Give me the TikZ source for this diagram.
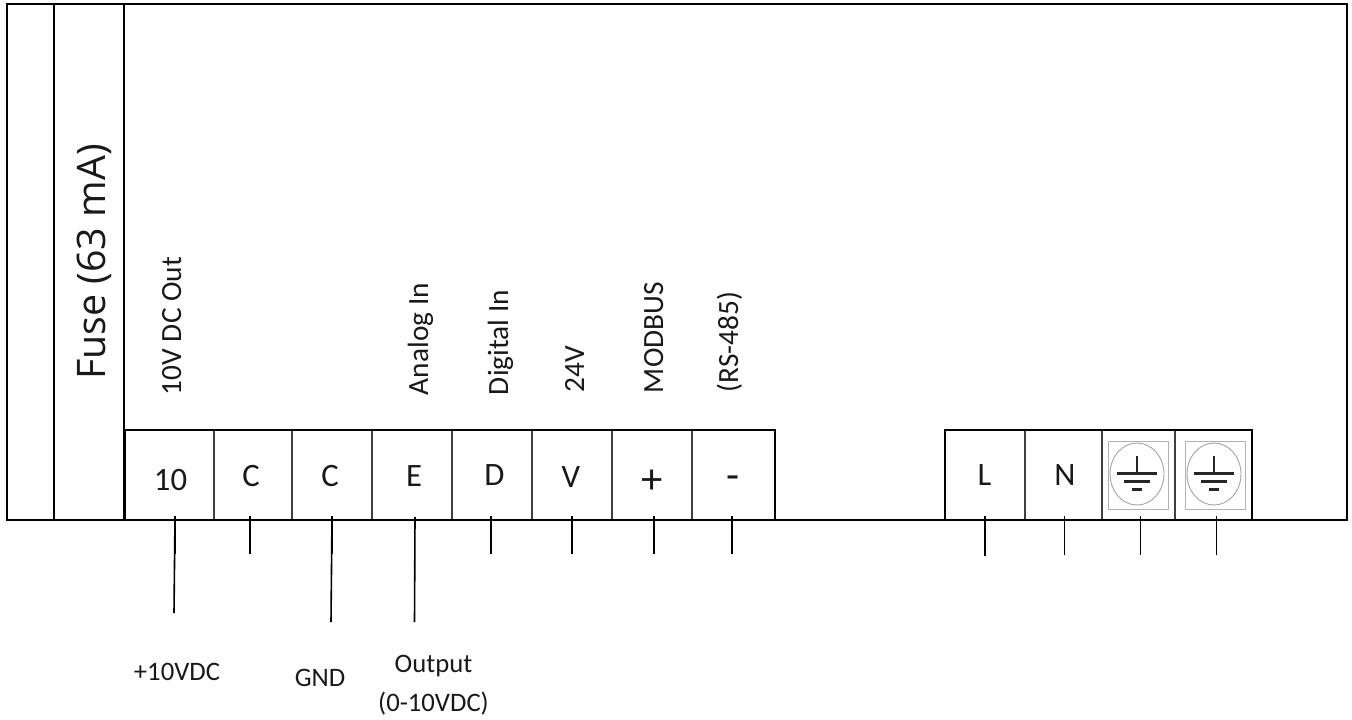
\documentclass[tikz,border=0pt]{standalone}
\usepackage{fontspec}
\setmainfont{Carlito}
\newfontfamily\fusefont{Open Sans}
\usepackage{xcolor}
\usepackage{tikz}
\usetikzlibrary{shapes.geometric}

\begin{document}
\begin{tikzpicture}[x=0.75pt, y=-0.75pt,
    every node/.style={inner sep=0pt, outer sep=0pt, text=black!90},
    cell/.style={draw=black!75, line width=0.9pt, minimum height=67.5pt},
    pin/.style={font=\fontsize{24.5}{28}\selectfont},
    bigpin/.style={font=\fontsize{32}{36}\selectfont},
    strip/.style={draw=black, line width=1.7pt},
    lead/.style={draw=black, line width=1.2pt},
    vert/.style={rotate=90, anchor=base west, font=\fontsize{22}{26}\selectfont},
    wire/.style={font=\fontsize{20}{24}\selectfont, align=center},
    earth/.style={draw=black!85, line width=1.6pt},
]
    \useasboundingbox (0,0) rectangle (1352,719);
    % housing
    \node (housing) [draw=black, line width=1.6pt, minimum width=1005pt, minimum height=387pt] at (677,262) {};
    \draw [line width=1.4pt] (54,4) -- (54,520);
    \draw [line width=1.5pt] (124,4) -- (124,520);
    \node (fuse) [rotate=90, anchor=base, font=\fusefont\fontsize{29.5}{34}\selectfont] at (105,262) {Fuse (63 mA)};
    % low voltage terminals
    \node (c10) [cell, minimum width=66.75pt] at (169.5,475) {};
    \node (c1) [cell, minimum width=58.5pt] at (253,475) {};
    \node (c2) [cell, minimum width=60pt] at (332,475) {};
    \node (ce) [cell, minimum width=60pt] at (412,475) {};
    \node (cd) [cell, minimum width=60pt] at (492,475) {};
    \node (cv) [cell, minimum width=60pt] at (572,475) {};
    \node (cp) [cell, minimum width=60pt] at (652,475) {};
    \node (cm) [cell, minimum width=62.25pt] at (733.5,475) {};
    \node (t10) [pin] at (170.5,480) {10};
    \node (tc1) [pin] at (251,476) {C};
    \node (tc2) [pin] at (330,476) {C};
    \node (te) [pin] at (414,476) {E};
    \node (td) [pin] at (494.5,475) {D};
    \node (tv) [pin] at (571,477) {V};
    \node (tp) [bigpin] at (652,482) {+};
    \node (tm) [bigpin] at (733,483) {-};
    \draw [strip] (125,520) -- (125,430) -- (775,430) -- (775,520);
    % mains terminals
    \node (cl) [cell, minimum width=60pt] at (985,475) {};
    \node (cn) [cell, minimum width=57.75pt] at (1063.5,475) {};
    \node (tl) [pin] at (984.5,475) {L};
    \node (tn) [pin] at (1065,475) {N};
    \node (g1) [cell, minimum width=54.75pt] at (1138.5,475) {};
    \node (g2) [cell, minimum width=57pt] at (1213.5,475) {};
    \draw [strip] (945,520) -- (945,430) -- (1252,430) -- (1252,520);
    % earth symbols
    \foreach \n/\cx in {e1/1137, e2/1214} {
        \node (box\n) [draw=black!30, line width=0.5pt, minimum width=45pt, minimum height=51pt] at (\cx+1,475) {};
        \node (\n) [draw=black!35, ellipse, line width=0.7pt, minimum width=40.5pt, minimum height=46.5pt] at (\cx,474) {};
        \draw [earth] (\cx,456) -- (\cx,473);
        \draw [earth] (\cx-20,473.5) -- (\cx+20,473.5);
        \draw [earth] (\cx-13,481.5) -- (\cx+13,481.5);
        \draw [earth] (\cx-5,489.5) -- (\cx+5,489.5);
    }
    \draw [draw=black, line width=1.6pt] (7,520) -- (1347,520);
    % leads
    \foreach \n/\lx/\ly in {a/175/554, b/250/554, c/332/554, d/491/554, f/572/554, h/654/554, i/732/554, j/985/556, k/1064.5/555, l/1140.5/555, m/1216.5/555} {
        \coordinate (top\n) at (\lx,516);
        \coordinate (end\n) at (\lx,\ly);
        \draw [lead] (top\n) -- (end\n);
    }
    \coordinate (lowa) at (174,613);
    \coordinate (lowc) at (331,622);
    \coordinate (tope) at (415,517);
    \coordinate (lowe) at (414.5,622);
    \draw [lead] (topa) -- (lowa);
    \draw [lead] (topc) -- (lowc);
    \draw [lead] (tope) -- (lowe);
    % labels
    \node (l10) [vert] at (181,395) {10V DC Out};
    \node (lai) [vert] at (428,395) {Analog In};
    \node (ldi) [vert] at (508,395) {Digital In};
    \node (l24) [vert] at (584,392) {24V};
    \node (lmb) [vert] at (663,393) {MODBUS};
    \node (lrs) [vert] at (738,392) {(RS-485)};
    \node (w10) [wire] at (177,672) {+10VDC};
    \node (wgnd) [wire] at (320,678) {GND};
    \node (wout) [wire] at (433.5,685) {Output\\[5pt](0-10VDC)};
\end{tikzpicture}
\end{document}
